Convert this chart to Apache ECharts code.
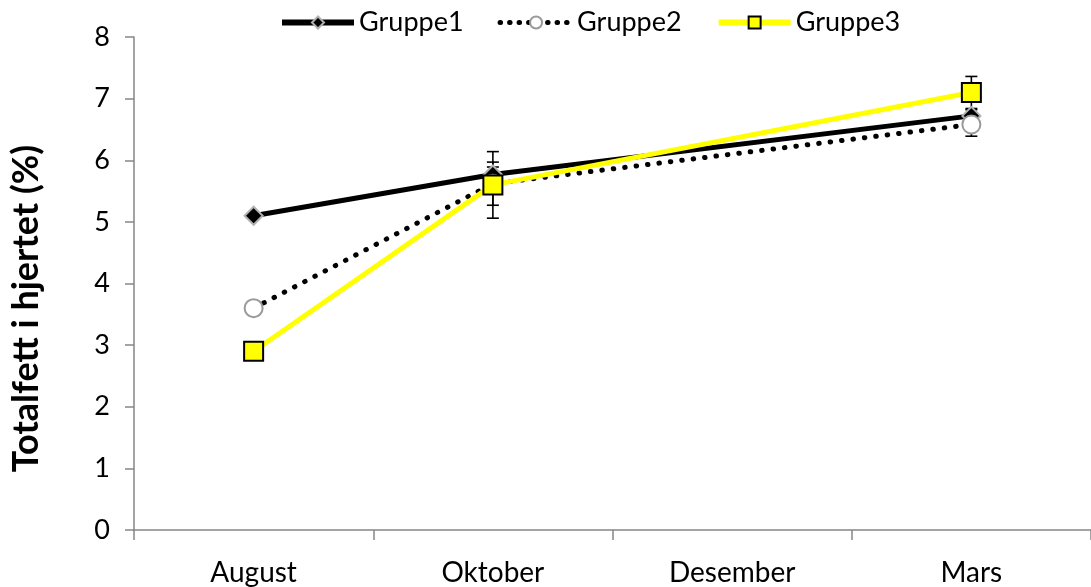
<!DOCTYPE html>
<html><head><meta charset="utf-8">
<script src="https://cdn.jsdelivr.net/npm/echarts@6/dist/echarts.min.js"></script>
<style>html,body{margin:0;padding:0;background:#fff}#c{width:1091px;height:587px}</style>
</head><body><div id="c"></div>
<script>
const categories = ['August', 'Oktober', 'Desember', 'Mars'];
const yTicks = [0, 1, 2, 3, 4, 5, 6, 7, 8];
const gruppe1 = [5.1, 5.77, null, 6.72];
const gruppe2 = [3.6, 5.62, null, 6.58];
const gruppe3 = [2.9, 5.6, null, 7.1];
const err1 = [null, 0.12, null, 0.1];
const err2 = [null, 0.35, null, 0.19];
const err3 = [null, 0.54, null, 0.26];
const yTitle = 'Totalfett i hjertet (%)';
const FONT = 'Lato';

function errData(vals, errs) {
  const out = [];
  vals.forEach((v, i) => { if (v != null && errs[i] != null) out.push([i, v, errs[i]]); });
  return out;
}
function errSeries(vals, errs) {
  return {
    type: 'custom', silent: true, z: 1, legendHoverLink: false,
    data: errData(vals, errs),
    renderItem: function (params, api) {
      const i = api.value(0), v = api.value(1), e = api.value(2);
      const top = api.coord([i, v + e]);
      const bot = api.coord([i, v - e]);
      const hw = 6;
      const st = { stroke: '#000', lineWidth: 1.6 };
      return { type: 'group', children: [
        { type: 'line', shape: { x1: top[0], y1: top[1], x2: bot[0], y2: bot[1] }, style: st },
        { type: 'line', shape: { x1: top[0] - hw, y1: top[1], x2: top[0] + hw, y2: top[1] }, style: st },
        { type: 'line', shape: { x1: bot[0] - hw, y1: bot[1], x2: bot[0] + hw, y2: bot[1] }, style: st }
      ]};
    }
  };
}

const chart = echarts.init(document.getElementById('c'), null, { renderer: 'canvas' });
chart.setOption({
  animation: false,
  textStyle: { fontFamily: FONT },
  legend: {
    left: 274, top: 4, itemWidth: 72, itemHeight: 15, itemGap: 34,
    textStyle: { fontFamily: FONT, fontSize: 27, color: '#000' },
    data: [
      { name: 'Gruppe1', lineStyle: { color: '#000', width: 6 } },
      { name: 'Gruppe2', lineStyle: { color: '#000', width: 5, type: [0.5, 9], cap: 'round' } },
      { name: 'Gruppe3', lineStyle: { color: '#ffff00', width: 6 } }
    ]
  },
  grid: { left: 134, top: 37, bottom: 57, right: -11 },
  xAxis: {
    type: 'category', data: categories, boundaryGap: true,
    axisLine: { lineStyle: { color: '#868686', width: 1.5 } },
    axisTick: { show: true, length: 10, lineStyle: { color: '#868686', width: 1.5 } },
    axisLabel: { fontFamily: FONT, fontSize: 28, color: '#000', margin: 29 },
    splitLine: { show: false }
  },
  yAxis: {
    type: 'value', min: yTicks[0], max: yTicks[yTicks.length - 1], interval: 1,
    name: yTitle, nameLocation: 'middle', nameGap: 90, nameRotate: 90,
    nameTextStyle: { fontFamily: FONT, fontSize: 36, fontWeight: 'bold', color: '#000', padding: [0, 50, 0, 0] },
    axisLine: { show: true, lineStyle: { color: '#868686', width: 1.5 } },
    axisTick: { show: true, length: 9, lineStyle: { color: '#868686', width: 1.5 } },
    axisLabel: { fontFamily: FONT, fontSize: 27, color: '#000', margin: 24 },
    splitLine: { show: false }
  },
  series: [
    errSeries(gruppe1, err1),
    errSeries(gruppe2, err2),
    errSeries(gruppe3, err3),
    {
      name: 'Gruppe1', type: 'line', data: gruppe1, connectNulls: true, z: 3,
      symbol: 'diamond', symbolSize: 18,
      lineStyle: { color: '#000', width: 5 },
      itemStyle: { color: '#000', borderColor: '#b0b0b0', borderWidth: 2 }
    },
    {
      name: 'Gruppe2', type: 'line', data: gruppe2, connectNulls: true, z: 4,
      symbol: 'circle', symbolSize: 18,
      lineStyle: { color: '#000', width: 5, type: [0.5, 11], cap: 'round' },
      itemStyle: { color: '#fff', borderColor: '#9a9a9a', borderWidth: 2 }
    },
    {
      name: 'Gruppe3', type: 'line', data: gruppe3, connectNulls: true, z: 5,
      symbol: 'rect', symbolSize: 19,
      lineStyle: { color: '#ffff00', width: 5 },
      itemStyle: { color: '#ffff00', borderColor: '#000', borderWidth: 2 }
    }
  ]
});
</script>
</body></html>
